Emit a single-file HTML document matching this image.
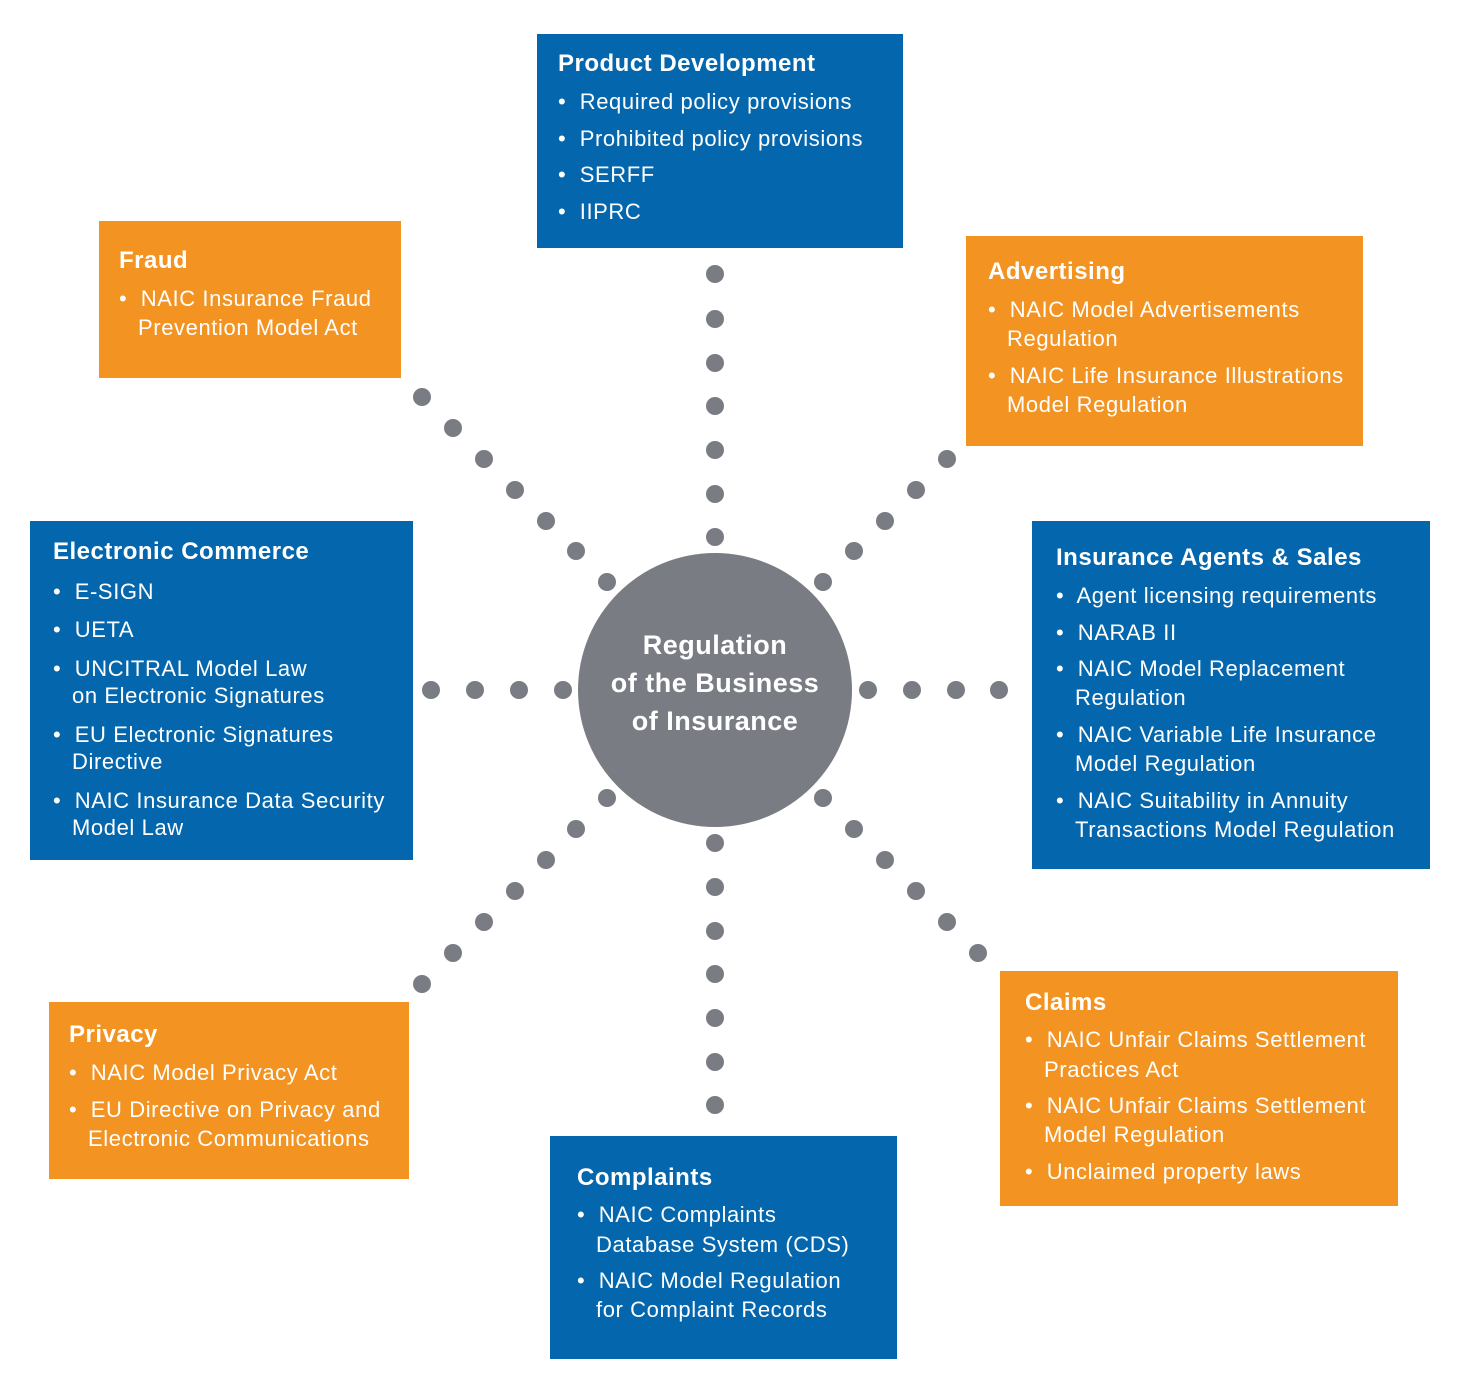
<!DOCTYPE html>
<html><head><meta charset="utf-8"><style>
body{margin:0;width:1464px;height:1394px;background:#fff;position:relative;overflow:hidden;font-family:"Liberation Sans",sans-serif}
.b{position:absolute;background:#0467ad}
.o{position:absolute;background:#f39322}
.t{position:absolute;color:#fff;font-size:22px;letter-spacing:0.6px;line-height:24px;white-space:nowrap}
.h{font-weight:bold;font-size:24px;letter-spacing:0.5px}
.d{position:absolute;width:18px;height:18px;border-radius:50%;background:#7a7c84}
</style></head><body>
<div class="b" style="left:537px;top:34px;width:366px;height:214px"></div>
<div class="o" style="left:99px;top:221px;width:302px;height:157px"></div>
<div class="o" style="left:966px;top:236px;width:397px;height:210px"></div>
<div class="b" style="left:30px;top:521px;width:383px;height:339px"></div>
<div class="b" style="left:1032px;top:521px;width:398px;height:348px"></div>
<div class="o" style="left:49px;top:1002px;width:360px;height:177px"></div>
<div class="b" style="left:550px;top:1136px;width:347px;height:223px"></div>
<div class="o" style="left:1000px;top:971px;width:398px;height:235px"></div>
<div style="position:absolute;left:578px;top:553px;width:274px;height:274px;border-radius:50%;background:#7a7c84"></div>
<div class="t h" style="left:578px;width:274px;text-align:center;top:626px;line-height:38px;white-space:normal;font-size:27px">Regulation<br>of the Business<br>of Insurance</div>

<div class="t h" style="left:558px;top:52px">Product Development</div>
<div class="t" style="left:558px;top:90px">•&nbsp; Required policy provisions</div>
<div class="t" style="left:558px;top:127px">•&nbsp; Prohibited policy provisions</div>
<div class="t" style="left:558px;top:163px">•&nbsp; SERFF</div>
<div class="t" style="left:558px;top:200px">•&nbsp; IIPRC</div>

<div class="t h" style="left:119px;top:249px">Fraud</div>
<div class="t" style="left:119px;top:287px">•&nbsp; NAIC Insurance Fraud</div>
<div class="t" style="left:138px;top:316px">Prevention Model Act</div>

<div class="t h" style="left:988px;top:260px">Advertising</div>
<div class="t" style="left:988px;top:298px">•&nbsp; NAIC Model Advertisements</div>
<div class="t" style="left:1007px;top:327px">Regulation</div>
<div class="t" style="left:988px;top:364px">•&nbsp; NAIC Life Insurance Illustrations</div>
<div class="t" style="left:1007px;top:393px">Model Regulation</div>

<div class="t h" style="left:53px;top:540px">Electronic Commerce</div>
<div class="t" style="left:53px;top:580px">•&nbsp; E-SIGN</div>
<div class="t" style="left:53px;top:618px">•&nbsp; UETA</div>
<div class="t" style="left:53px;top:657px">•&nbsp; UNCITRAL Model Law</div>
<div class="t" style="left:72px;top:684px">on Electronic Signatures</div>
<div class="t" style="left:53px;top:723px">•&nbsp; EU Electronic Signatures</div>
<div class="t" style="left:72px;top:750px">Directive</div>
<div class="t" style="left:53px;top:789px">•&nbsp; NAIC Insurance Data Security</div>
<div class="t" style="left:72px;top:816px">Model Law</div>

<div class="t h" style="left:1056px;top:546px">Insurance Agents &amp; Sales</div>
<div class="t" style="left:1056px;top:584px">•&nbsp; Agent licensing requirements</div>
<div class="t" style="left:1056px;top:621px">•&nbsp; NARAB II</div>
<div class="t" style="left:1056px;top:657px">•&nbsp; NAIC Model Replacement</div>
<div class="t" style="left:1075px;top:686px">Regulation</div>
<div class="t" style="left:1056px;top:723px">•&nbsp; NAIC Variable Life Insurance</div>
<div class="t" style="left:1075px;top:752px">Model Regulation</div>
<div class="t" style="left:1056px;top:789px">•&nbsp; NAIC Suitability in Annuity</div>
<div class="t" style="left:1075px;top:818px">Transactions Model Regulation</div>

<div class="t h" style="left:69px;top:1023px">Privacy</div>
<div class="t" style="left:69px;top:1061px">•&nbsp; NAIC Model Privacy Act</div>
<div class="t" style="left:69px;top:1098px">•&nbsp; EU Directive on Privacy and</div>
<div class="t" style="left:88px;top:1127px">Electronic Communications</div>

<div class="t h" style="left:577px;top:1166px">Complaints</div>
<div class="t" style="left:577px;top:1203px">•&nbsp; NAIC Complaints</div>
<div class="t" style="left:596px;top:1233px">Database System (CDS)</div>
<div class="t" style="left:577px;top:1269px">•&nbsp; NAIC Model Regulation</div>
<div class="t" style="left:596px;top:1298px">for Complaint Records</div>

<div class="t h" style="left:1025px;top:991px">Claims</div>
<div class="t" style="left:1025px;top:1028px">•&nbsp; NAIC Unfair Claims Settlement</div>
<div class="t" style="left:1044px;top:1058px">Practices Act</div>
<div class="t" style="left:1025px;top:1094px">•&nbsp; NAIC Unfair Claims Settlement</div>
<div class="t" style="left:1044px;top:1123px">Model Regulation</div>
<div class="t" style="left:1025px;top:1160px">•&nbsp; Unclaimed property laws</div>

<div class="d" style="left:706px;top:265px"></div><div class="d" style="left:706px;top:310px"></div><div class="d" style="left:706px;top:354px"></div><div class="d" style="left:706px;top:397px"></div><div class="d" style="left:706px;top:441px"></div><div class="d" style="left:706px;top:485px"></div><div class="d" style="left:706px;top:528px"></div>
<div class="d" style="left:706px;top:834px"></div><div class="d" style="left:706px;top:878px"></div><div class="d" style="left:706px;top:922px"></div><div class="d" style="left:706px;top:965px"></div><div class="d" style="left:706px;top:1009px"></div><div class="d" style="left:706px;top:1053px"></div><div class="d" style="left:706px;top:1096px"></div>
<div class="d" style="left:422px;top:681px"></div><div class="d" style="left:466px;top:681px"></div><div class="d" style="left:510px;top:681px"></div><div class="d" style="left:554px;top:681px"></div>
<div class="d" style="left:859px;top:681px"></div><div class="d" style="left:903px;top:681px"></div><div class="d" style="left:947px;top:681px"></div><div class="d" style="left:990px;top:681px"></div>
<div class="d" style="left:413px;top:388px"></div><div class="d" style="left:444px;top:419px"></div><div class="d" style="left:475px;top:450px"></div><div class="d" style="left:506px;top:481px"></div><div class="d" style="left:537px;top:512px"></div><div class="d" style="left:567px;top:542px"></div><div class="d" style="left:598px;top:573px"></div>
<div class="d" style="left:938px;top:450px"></div><div class="d" style="left:907px;top:481px"></div><div class="d" style="left:876px;top:512px"></div><div class="d" style="left:845px;top:542px"></div><div class="d" style="left:814px;top:573px"></div>
<div class="d" style="left:598px;top:789px"></div><div class="d" style="left:567px;top:820px"></div><div class="d" style="left:537px;top:851px"></div><div class="d" style="left:506px;top:882px"></div><div class="d" style="left:475px;top:913px"></div><div class="d" style="left:444px;top:944px"></div><div class="d" style="left:413px;top:975px"></div>
<div class="d" style="left:814px;top:789px"></div><div class="d" style="left:845px;top:820px"></div><div class="d" style="left:876px;top:851px"></div><div class="d" style="left:907px;top:882px"></div><div class="d" style="left:938px;top:913px"></div><div class="d" style="left:969px;top:944px"></div>
</body></html>
